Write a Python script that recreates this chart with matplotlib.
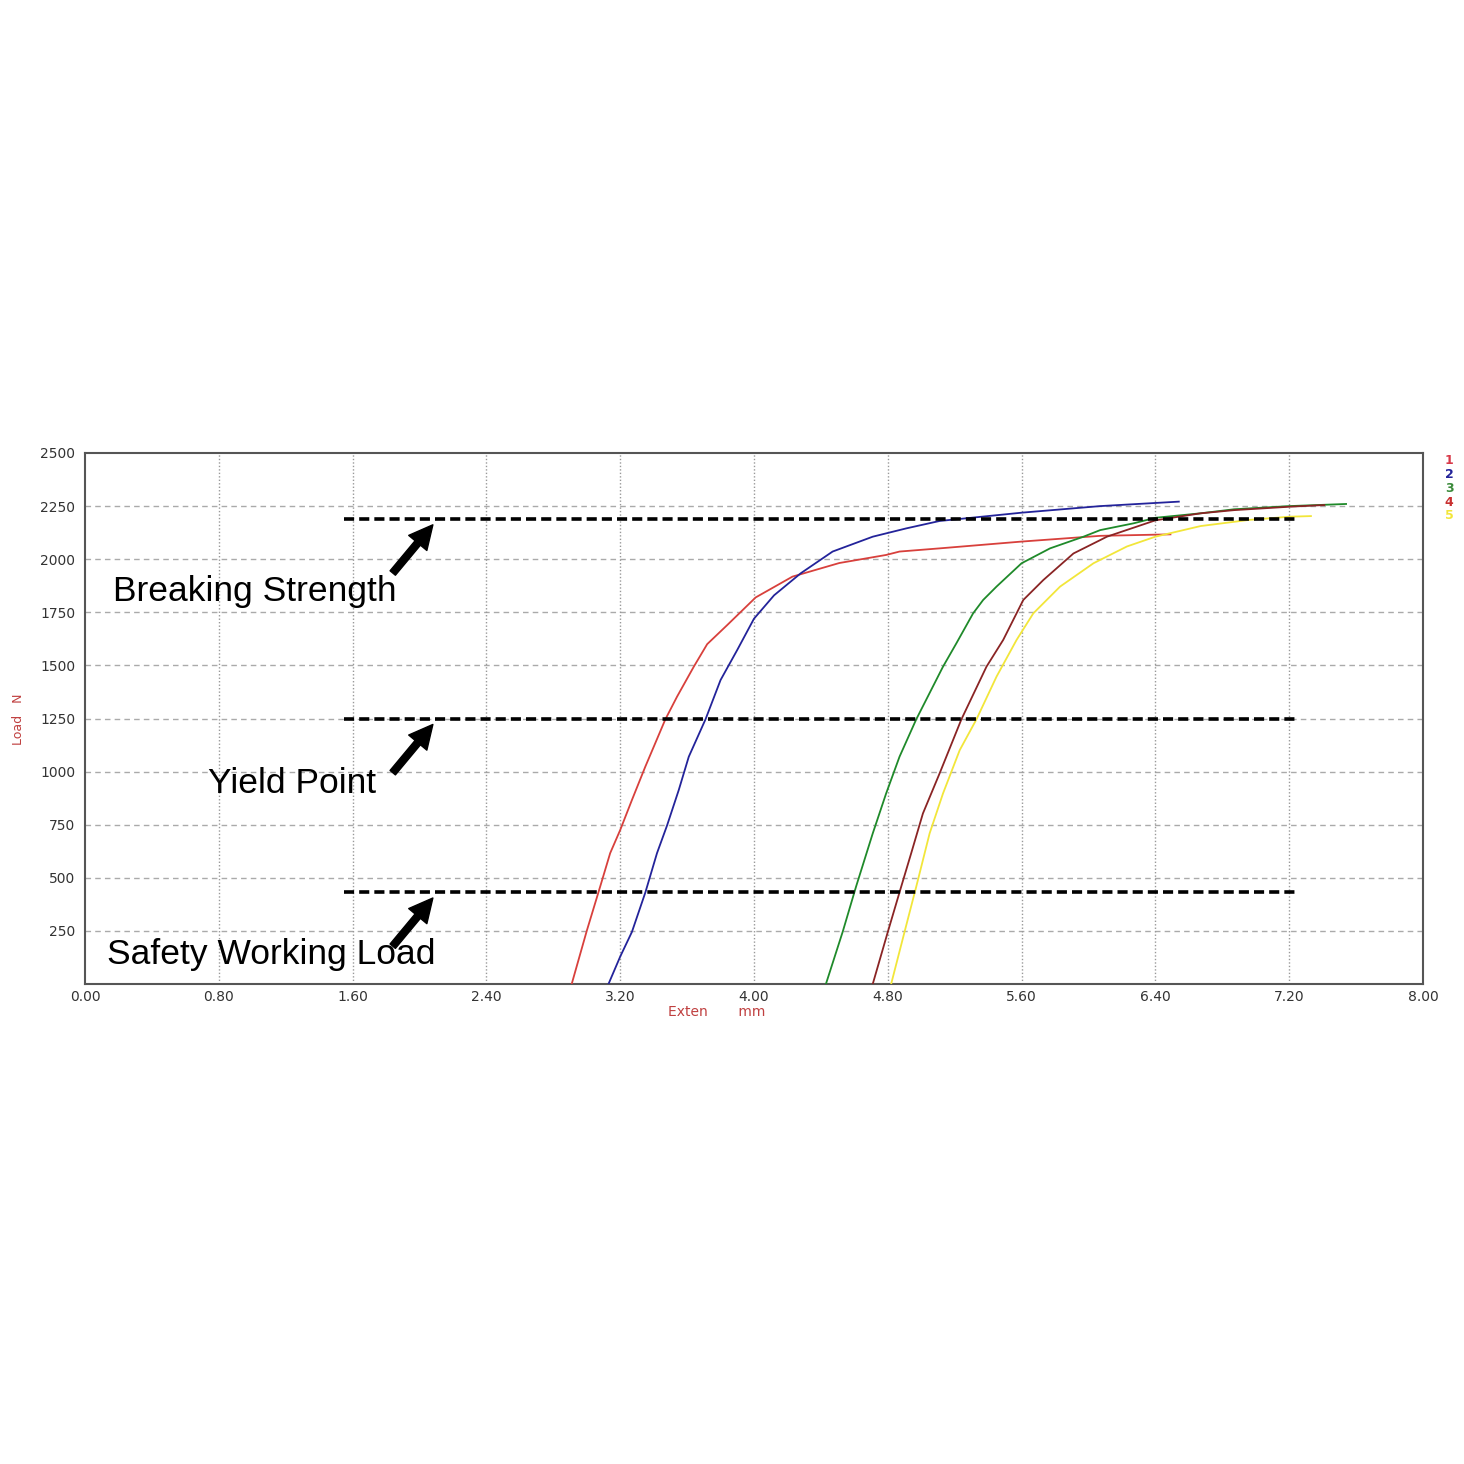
import matplotlib
matplotlib.use("Agg")
import matplotlib.pyplot as plt

# ------------------------------------------------------------
# Load vs extension curves (5 samples)
# ------------------------------------------------------------
ext_1  = [2.91, 3.00, 3.08, 3.14, 3.20, 3.27, 3.35, 3.47, 3.54, 3.64, 3.72, 3.84,
          4.01, 4.23, 4.51, 4.79, 4.87, 5.11, 5.60, 6.07, 6.49]
load_1 = [0, 250, 458, 616, 725, 866, 1023, 1246, 1353, 1494, 1600, 1690,
          1820, 1918, 1982, 2020, 2036, 2051, 2083, 2110, 2117]

ext_2  = [3.13, 3.20, 3.27, 3.35, 3.42, 3.48, 3.55, 3.61, 3.71, 3.80, 3.90, 4.00,
          4.12, 4.28, 4.47, 4.71, 4.91, 5.11, 5.60, 6.07, 6.54]
load_2 = [0, 129, 245, 430, 616, 746, 913, 1070, 1246, 1431, 1573, 1720,
          1830, 1934, 2036, 2106, 2145, 2180, 2219, 2250, 2271]

ext_3  = [4.43, 4.53, 4.61, 4.71, 4.79, 4.87, 4.97, 5.13, 5.21, 5.31, 5.37, 5.45,
          5.60, 5.77, 5.97, 6.07, 6.27, 6.40, 6.67, 6.87, 7.20, 7.54]
load_3 = [0, 245, 458, 709, 897, 1070, 1246, 1494, 1604, 1745, 1808, 1871,
          1981, 2051, 2106, 2137, 2169, 2195, 2216, 2235, 2250, 2260]

ext_4  = [4.71, 4.80, 4.88, 4.94, 5.01, 5.11, 5.24, 5.39, 5.49, 5.61, 5.73, 5.91,
          6.07, 6.11, 6.40, 6.67, 6.87, 7.20, 7.41]
load_4 = [0, 245, 458, 616, 803, 992, 1246, 1494, 1620, 1808, 1902, 2027,
          2090, 2106, 2183, 2216, 2231, 2247, 2255]

ext_5  = [4.82, 4.90, 4.97, 5.05, 5.13, 5.23, 5.33, 5.45, 5.57, 5.67, 5.83, 6.03,
          6.23, 6.40, 6.67, 6.96, 7.20, 7.33]
load_5 = [0, 245, 458, 709, 897, 1101, 1246, 1447, 1620, 1745, 1871, 1981,
          2060, 2106, 2156, 2185, 2200, 2203]

SAMPLES = ["1", "2", "3", "4", "5"]
COLORS  = ["#d8403c", "#23239a", "#1f8a2a", "#8a2424", "#f2e63a"]
LABEL_COLORS = ["#d83848", "#23239a", "#3a8a3a", "#c83030", "#f2e63a"]

# reference levels (N) and their labels
LEVELS      = [2190, 1250, 433]
LEVEL_NAMES = ["Breaking Strength", "Yield Point", "Safety Working Load"]
LEVEL_X     = [1.55, 7.25]
LABEL_POS   = [(0.17, 1850), (0.735, 942), (0.13, 137)]

X_TICKS = [0.0, 0.8, 1.6, 2.4, 3.2, 4.0, 4.8, 5.6, 6.4, 7.2, 8.0]
Y_TICKS = [250, 500, 750, 1000, 1250, 1500, 1750, 2000, 2250, 2500]


fig = plt.figure(figsize=(14.64, 14.64), dpi=100)
ax = fig.add_axes([85 / 1464, 1 - 984 / 1464, 1338 / 1464, 531 / 1464])

# grid: dashed horizontals, dotted verticals
for y in Y_TICKS[:-1]:
    ax.axhline(y, color="#aaaaaa", lw=1.0, ls=(0, (4, 3)), zorder=1)
for x in X_TICKS[1:-1]:
    ax.axvline(x, color="#999999", lw=1.0, ls=(0, (1, 1.5)), zorder=1)

curves = [(ext_1, load_1), (ext_2, load_2), (ext_3, load_3), (ext_4, load_4), (ext_5, load_5)]
for (xs, ys), c in zip(curves, COLORS):
    ax.plot(xs, ys, color=c, lw=1.3, zorder=3)

# reference levels + arrows + labels
for lvl, name, (tx, ty) in zip(LEVELS, LEVEL_NAMES, LABEL_POS):
    ax.plot(LEVEL_X, [lvl, lvl], color="black", lw=2.6, ls=(0, (2.8, 1.4)), zorder=4)
    ax.annotate("", xy=(2.08, lvl - 28), xytext=(1.84, lvl - 255),
                arrowprops=dict(facecolor="black", edgecolor="black",
                                width=5, headwidth=17, headlength=17, shrink=0),
                zorder=5)
    ax.text(tx, ty, name, fontsize=25.5, family="Liberation Sans",
            ha="left", va="center", color="black", zorder=5)

ax.set_xlim(0, 8)
ax.set_ylim(0, 2500)
ax.set_xticks(X_TICKS)
ax.set_xticklabels([f"{v:.2f}" for v in X_TICKS])
ax.set_yticks(Y_TICKS)
ax.set_yticklabels([str(v) for v in Y_TICKS])
ax.tick_params(length=0, labelsize=10, labelcolor="#333333")
ax.tick_params(axis="y", pad=7)
ax.tick_params(axis="x", pad=4)

for s in ax.spines.values():
    s.set_color("#555555")
    s.set_linewidth(1.5)

fig.text(717 / 1464, 1 - 1012 / 1464, "Exten       mm", color="#c04040",
         fontsize=10, ha="center", va="center")
fig.text(18 / 1464, 1 - 719 / 1464, "Load   N", color="#c04040",
         fontsize=9, ha="center", va="center", rotation=90)

# sample numbers on the right
for i, (lab, c) in enumerate(zip(SAMPLES, LABEL_COLORS)):
    fig.text(1449 / 1464, 1 - (461 + 13.7 * i) / 1464, lab, color=c,
             fontsize=9, ha="center", va="center", fontweight="bold")

fig.savefig("out.png", dpi=100, facecolor="white")
